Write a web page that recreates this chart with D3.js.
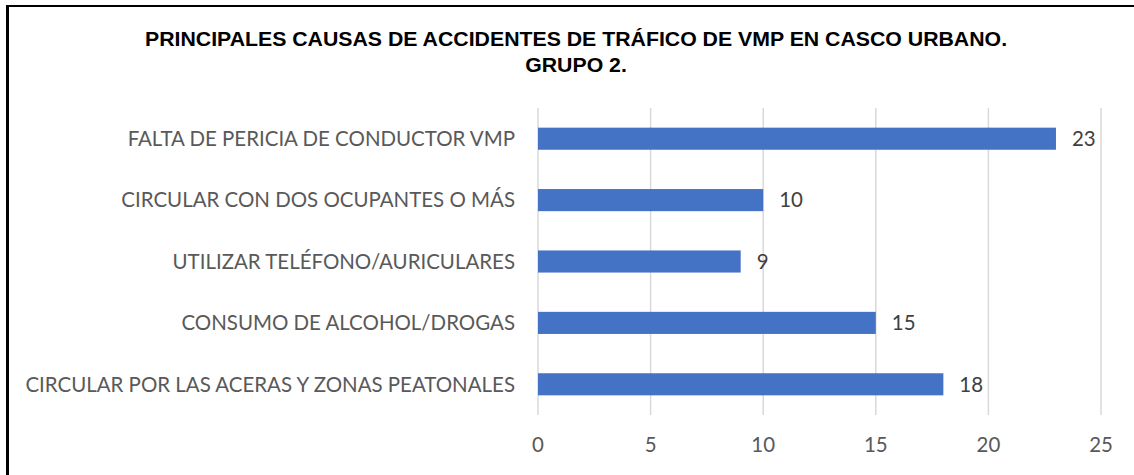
<!DOCTYPE html>
<html>
<head>
<meta charset="utf-8">
<script src="https://cdn.jsdelivr.net/npm/d3@7"></script>
<style>
  body { margin: 0; background: #fff; }
</style>
</head>
<body>
<script>
const categories = [
  "FALTA DE PERICIA DE CONDUCTOR VMP",
  "CIRCULAR CON DOS OCUPANTES O MÁS",
  "UTILIZAR TELÉFONO/AURICULARES",
  "CONSUMO DE ALCOHOL/DROGAS",
  "CIRCULAR POR LAS ACERAS Y ZONAS PEATONALES"
];
const values = [23, 10, 9, 15, 18];
const ticks = [0, 5, 10, 15, 20, 25];
const titleLines = [
  "PRINCIPALES CAUSAS DE ACCIDENTES DE TRÁFICO DE VMP EN CASCO URBANO.",
  "GRUPO 2."
];

// place a text at (x, y) squeezed horizontally by sx
const place = (sel, fx, fy, sx) =>
  sel.attr('x', 0).attr('y', 0)
    .attr('transform', (d, i) => `translate(${fx(d, i)},${fy(d, i)}) scale(${sx},1)`);

const drawViz = () => {
  const width = 1134;
  const height = 475;
  const margin = {top: 108, bottom: 60, left: 538, right: 33};

  const data = categories.map((c, i) => ({name: c, value: values[i]}));

  // x scale for bar length
  const xScale = d3.scaleLinear()
    .domain([0, 25])
    .range([margin.left, width - margin.right]);

  // y scale to distribute bars
  const yScale = d3.scaleBand()
    .domain(categories)
    .range([margin.top, height - margin.bottom])
    .paddingInner(0.64)
    .paddingOuter(0.32);

  const svg = d3.select('body')
    .append('svg')
    .attr('width', width)
    .attr('height', height);

  svg.append('rect')
    .attr('width', width).attr('height', height)
    .attr('fill', '#ffffff');

  // frame (left and top edges visible)
  svg.append('line')
    .attr('x1', 7.5).attr('x2', 7.5).attr('y1', 5).attr('y2', height)
    .attr('stroke', '#000').attr('stroke-width', 3);
  svg.append('line')
    .attr('x1', 6).attr('x2', width).attr('y1', 6).attr('y2', 6)
    .attr('stroke', '#000').attr('stroke-width', 2);

  // title
  const title = svg.append('g')
    .selectAll('text')
    .data(titleLines)
    .enter()
    .append('text')
    .attr('text-anchor', 'middle')
    .attr('font-family', 'Liberation Sans, Arial, sans-serif')
    .attr('font-weight', 'bold')
    .attr('font-size', 20.5)
    .attr('fill', '#000')
    .text(d => d);
  const tsx = 863 / title.nodes()[0].getComputedTextLength();
  place(title, () => 576, (d, i) => 45.5 + i * 26, tsx);

  // gridlines
  svg.append('g')
    .selectAll('line')
    .data(ticks)
    .enter()
    .append('line')
    .attr('x1', d => xScale(d)).attr('x2', d => xScale(d))
    .attr('y1', margin.top).attr('y2', height - margin.bottom)
    .attr('stroke', '#d9d9d9')
    .attr('stroke-width', 1.5);

  // bars
  svg.append('g')
    .selectAll('rect')
    .data(data)
    .enter()
    .append('rect')
    .attr('x', xScale(0))
    .attr('y', d => yScale(d.name))
    .attr('width', d => xScale(d.value) - xScale(0))
    .attr('height', yScale.bandwidth())
    .attr('fill', '#4472c4');

  const font = 'Lato, Carlito, sans-serif';
  const fs = 20.5;

  // category labels
  const labels = svg.append('g')
    .selectAll('text')
    .data(data)
    .enter()
    .append('text')
    .attr('dy', '0.36em')
    .attr('text-anchor', 'end')
    .attr('font-family', font)
    .attr('font-size', fs)
    .attr('fill', '#595959')
    .text(d => d.name);
  const sx = 490 / labels.nodes()[4].getComputedTextLength();
  place(labels, () => 515, d => yScale(d.name) + yScale.bandwidth() / 2, sx);

  // value labels
  const vals = svg.append('g')
    .selectAll('text')
    .data(data)
    .enter()
    .append('text')
    .attr('dy', '0.36em')
    .attr('font-family', font)
    .attr('font-size', fs)
    .attr('fill', '#404040')
    .text(d => d.value);
  place(vals, d => xScale(d.value) + 16, d => yScale(d.name) + yScale.bandwidth() / 2, sx);

  // x tick labels
  const tl = svg.append('g')
    .selectAll('text')
    .data(ticks)
    .enter()
    .append('text')
    .attr('text-anchor', 'middle')
    .attr('font-family', font)
    .attr('font-size', fs)
    .attr('fill', '#595959')
    .text(d => d);
  place(tl, d => xScale(d), () => 452, sx);
};

drawViz();
</script>
</body>
</html>
